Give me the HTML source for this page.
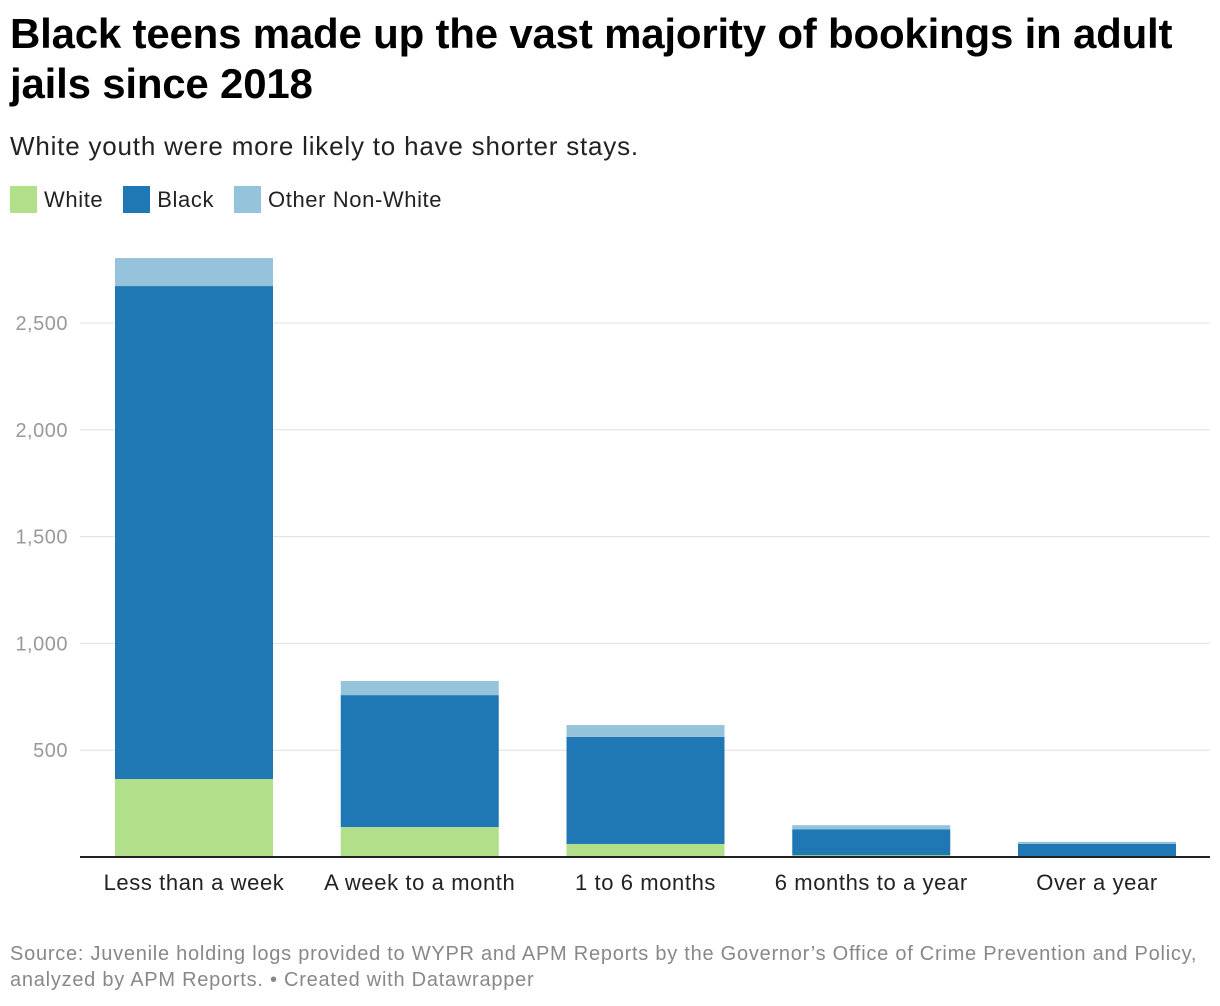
<!DOCTYPE html>
<html><head><meta charset="utf-8"><style>
body{margin:0;background:#fff;width:1220px;height:1006px;overflow:hidden;font-family:"Liberation Sans",Arial,sans-serif;}
h1{position:absolute;left:10px;top:9px;margin:0;font-size:42px;line-height:50px;font-weight:bold;color:#000;width:1210px;letter-spacing:-0.2px}
.sub{position:absolute;left:10px;top:131px;font-size:26px;letter-spacing:0.8px;color:#222}
.legend{position:absolute;left:10px;top:186px;font-size:22px;letter-spacing:0.6px;color:#222;display:flex;gap:20px}
.legend span{display:flex;align-items:center}
.legend i{display:inline-block;width:27px;height:27px;margin-right:7px}
.src{position:absolute;left:10px;top:941px;font-size:20px;letter-spacing:0.75px;line-height:26px;color:#888;white-space:nowrap}
</style></head><body>
<h1>Black teens made up the vast majority of bookings in adult jails since 2018</h1>
<div class="sub">White youth were more likely to have shorter stays.</div>
<div class="legend">
<span><i style="background:#b2df8a"></i>White</span>
<span><i style="background:#1f78b4"></i>Black</span>
<span><i style="background:#96c3dc"></i>Other Non-White</span>
</div>
<svg id="chart" width="1220" height="1006" style="position:absolute;left:0;top:0"></svg>
<div class="src">Source: Juvenile holding logs provided to WYPR and APM Reports by the Governor’s Office of Crime Prevention and Policy,<br>analyzed by APM Reports. • Created with Datawrapper</div>
<script>
const categories=["Less than a week","A week to a month","1 to 6 months","6 months to a year","Over a year"];
const white=[365,140,61,8,1];
const black=[2308,618,501,122,61];
const other=[131,66,56,19,9];
const ticks=[500,1000,1500,2000,2500];
const tickLabels=["500","1,000","1,500","2,000","2,500"];
const svg=document.getElementById('chart');
const NS="http://www.w3.org/2000/svg";
const y0=857,k=0.2136;
const y=v=>y0-v*k;
const xb=i=>115+i*225.75;
const bw=158;
function mk(t,a){const e=document.createElementNS(NS,t);for(const p in a)e.setAttribute(p,a[p]);svg.appendChild(e);return e;}
ticks.forEach((t,i)=>{
 const l=mk('line',{x1:80,x2:1210,y1:y(t),y2:y(t),stroke:'#e0e0e0','stroke-width':1});
 
 
 const tx=mk('text',{x:68,y:y(t)+7,'text-anchor':'end','font-size':20,'letter-spacing':0.5,fill:'#999'});
 tx.textContent=tickLabels[i];
 
 
});
const series=[[white,'#b2df8a','white'],[black,'#1f78b4','black'],[other,'#96c3dc','other']];
categories.forEach((c,i)=>{
 let base=0;
 series.forEach(([arr,col,nm])=>{
  const v=arr[i];
  const r=mk('rect',{x:xb(i),width:bw,y:y(base+v),height:v*k,fill:col});
  
  
  base+=v;
 });
 const t=mk('text',{x:xb(i)+bw/2,y:890,'text-anchor':'middle','font-size':22,'letter-spacing':0.6,fill:'#222'});
 t.textContent=c;
 
 
});
const ax=mk('line',{x1:80,x2:1210,y1:y0,y2:y0,stroke:'#222','stroke-width':2});


</script>
</body></html>
